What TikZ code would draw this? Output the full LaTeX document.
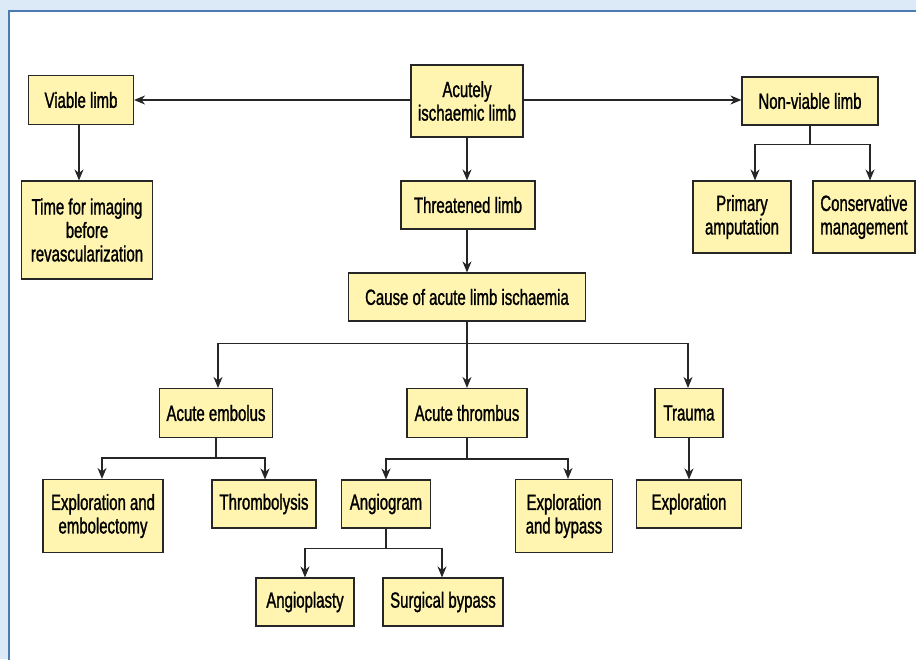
\documentclass[tikz,border=0pt]{standalone}
\usepackage{fontspec}
\setmainfont{Liberation Sans}[FakeStretch=0.68,FakeBold=1.2]
\usetikzlibrary{arrows.meta}
\definecolor{boxyellow}{HTML}{FFF5B0}
\definecolor{panelblue}{HTML}{DCE9F6}
\definecolor{rimblue}{HTML}{4C7BB3}
\begin{document}
\begin{tikzpicture}[x=1pt,y=-1pt,
    box/.style={draw=black!85,fill=boxyellow,line width=1.1pt,align=center,inner sep=0pt,
      font=\fontsize{22}{23.5}\selectfont},
    link/.style={line width=1.2pt,draw=black!85},
    arr/.style={link,-{Stealth[length=11pt,width=9pt,inset=3.5pt]}}]
        \useasboundingbox (0,0) rectangle (916,659);
        \fill[panelblue] (0,0) rectangle (916,659);
        \fill[white] (9,11) rectangle (920,663);
        \draw[rimblue,line width=2pt] (9,663) -- (9,11) -- (920,11);
        \node[box,minimum width=112pt,minimum height=72pt] (acute) at (467,101) {Acutely\\ischaemic limb};
        \node[box,minimum width=105pt,minimum height=49pt] (viable) at (81,100) {Viable limb};
        \node[box,minimum width=136pt,minimum height=48pt] (nonviable) at (810,101) {Non-viable limb};
        \node[box,minimum width=131pt,minimum height=98pt] (imaging) at (87,230) {Time for imaging\\before\\revascularization};
        \node[box,minimum width=134pt,minimum height=48pt] (threat) at (468,205) {Threatened limb};
        \node[box,minimum width=98pt,minimum height=72pt] (primary) at (742,217) {Primary\\amputation};
        \node[box,minimum width=102pt,minimum height=72pt] (conserv) at (864,217) {Conservative\\management};
        \node[box,minimum width=237pt,minimum height=48pt] (cause) at (467,297) {Cause of acute limb ischaemia};
        \node[box,minimum width=113pt,minimum height=49pt] (embolus) at (216,413) {Acute embolus};
        \node[box,minimum width=120pt,minimum height=49pt] (thrombus) at (467,413) {Acute thrombus};
        \node[box,minimum width=68pt,minimum height=49pt] (trauma) at (689,413) {Trauma};
        \node[box,minimum width=120pt,minimum height=73pt] (embolectomy) at (103,516) {Exploration and\\embolectomy};
        \node[box,minimum width=104pt,minimum height=48pt] (lysis) at (264,504) {Thrombolysis};
        \node[box,minimum width=89pt,minimum height=48pt] (angiogram) at (386,504) {Angiogram};
        \node[box,minimum width=97pt,minimum height=73pt] (bypass) at (564,516) {Exploration\\and bypass};
        \node[box,minimum width=105pt,minimum height=48pt] (explore) at (689,504) {Exploration};
        \node[box,minimum width=98pt,minimum height=48pt] (plasty) at (305,602) {Angioplasty};
        \node[box,minimum width=120pt,minimum height=48pt] (surgical) at (443,602) {Surgical bypass};
        \draw[arr] (acute.west |- viable) -- (viable.east);
        \draw[arr] (acute.east |- viable) -- (nonviable.west |- viable);
        \draw[arr] (acute) -- (acute |- threat.north);
        \draw[arr] ([xshift=-2pt]viable.south) -- ([xshift=-2pt]viable.south |- imaging.north);
        \draw[link] (nonviable.south) -- ++(0,19) coordinate (nvfork);
        \draw[arr] (nvfork) -| ([xshift=13pt]primary.north);
        \draw[arr] (nvfork) -| ([xshift=6pt]conserv.north);
        \draw[arr] (cause |- threat.south) -- (cause.north);
        \draw[link] (cause.south) -- ++(0,22) coordinate (cfork);
        \draw[arr] (cfork) -| ([xshift=2pt]embolus.north);
        \draw[arr] (cfork) -- (thrombus.north);
        \draw[arr] (cfork) -| ([xshift=-1pt]trauma.north);
        \draw[link] (embolus.south) -- ++(0,20) coordinate (efork);
        \draw[arr] (efork) -| ([xshift=-1pt]embolectomy.north);
        \draw[arr] (efork) -| ([xshift=1pt]lysis.north);
        \draw[link] (thrombus.south) -- ++(0,21) coordinate (tfork);
        \draw[arr] (tfork) -| (angiogram.north);
        \draw[arr] (tfork) -| ([xshift=4pt]bypass.north);
        \draw[arr] (trauma) -- (explore.north);
        \draw[link] (angiogram.south) -- ++(0,20) coordinate (afork);
        \draw[arr] (afork) -| (plasty.north);
        \draw[arr] (afork) -| ([xshift=-1pt]surgical.north);
      \end{tikzpicture}
\end{document}
